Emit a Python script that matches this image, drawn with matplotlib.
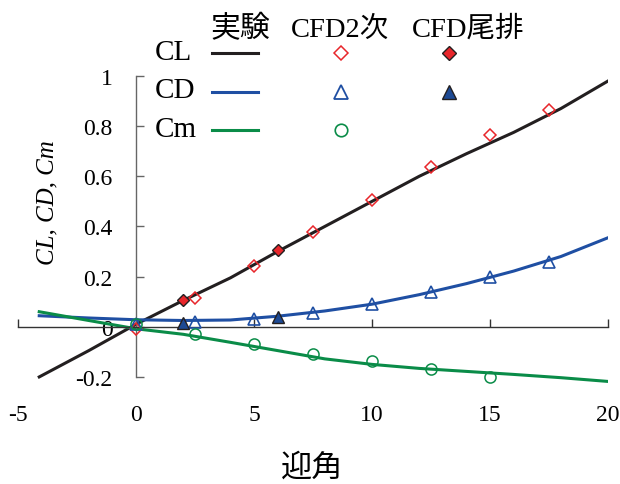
import matplotlib
matplotlib.use("Agg")
import matplotlib.pyplot as plt
from matplotlib.lines import Line2D

plt.rcParams['font.family'] = ['Liberation Serif', 'Noto Sans CJK JP', 'DejaVu Sans']
plt.rcParams['axes.unicode_minus'] = False

# Experimental (lines)
aoa_exp = [-4.1, -2, 0, 2, 4, 6, 8, 10, 12, 14, 16, 18, 20]
CL_exp = [-0.20, -0.095, 0.01, 0.105, 0.195, 0.30, 0.40, 0.50, 0.60, 0.69, 0.775, 0.87, 0.98]
CD_exp = [0.044, 0.035, 0.028, 0.025, 0.027, 0.042, 0.063, 0.09, 0.128, 0.172, 0.222, 0.28, 0.355]
Cm_exp = [0.06, 0.025, -0.008, -0.03, -0.062, -0.095, -0.128, -0.15, -0.166, -0.178, -0.19, -0.203, -0.218]

# CFD 2nd order
aoa_cfd = [0, 2.5, 5, 7.5, 10, 12.5, 15, 17.5]
CL_cfd = [-0.008, 0.113, 0.243, 0.378, 0.506, 0.636, 0.765, 0.865]
CD_cfd = [0.012, 0.02, 0.032, 0.056, 0.092, 0.14, 0.198, 0.26]
aoa_cm_cfd = [0, 2.5, 5, 7.5, 10, 12.5, 15]
Cm_cfd = [0.012, -0.028, -0.068, -0.11, -0.135, -0.167, -0.2]

# CFD tail
aoa_tail = [2, 6]
CL_tail = [0.108, 0.308]
CD_tail = [0.017, 0.04]

x_ticks = [-5, 0, 5, 10, 15, 20]
x_labels = ['-5', '0', '5', '10', '15', '20']
y_ticks = [-0.2, 0, 0.2, 0.4, 0.6, 0.8, 1.0]
y_labels = ['-0.2', '0', '0.2', '0.4', '0.6', '0.8', '1']

c_black = '#231f20'
c_blue = '#1f4fa3'
c_green = '#0a8c48'
c_red = '#e8262b'
c_navy = '#1d4a94'

W, H = 620, 485
fig = plt.figure(figsize=(W / 100, H / 100), dpi=100)
ax = fig.add_axes([18 / W, 1 - 403 / H, 590 / W, 326 / H])
ax.set_xlim(-5, 20)
ax.set_ylim(-0.3, 1.0)

lw = 2.2
ax.plot(aoa_exp, CL_exp, color=c_black, lw=lw, zorder=2)
ax.plot(aoa_exp, CD_exp, color=c_blue, lw=lw, zorder=2)
ax.plot(aoa_exp, Cm_exp, color=c_green, lw=lw, zorder=2)

ax.plot(aoa_cfd, CL_cfd, ls='none', marker='D', ms=5.8, mfc='none', mec=c_red, mew=1.1, zorder=3)
ax.plot(aoa_cfd, CD_cfd, ls='none', marker='^', ms=8.5, mfc='none', mec=c_blue, mew=1.2, zorder=3)
ax.plot(aoa_cm_cfd, Cm_cfd, ls='none', marker='o', ms=8, mfc='none', mec=c_green, mew=1.1, zorder=3)
ax.plot(aoa_tail, CL_tail, ls='none', marker='D', ms=5.8, mfc=c_red, mec=c_black, mew=1.0, zorder=4)
ax.plot(aoa_tail, CD_tail, ls='none', marker='^', ms=8.5, mfc=c_navy, mec=c_black, mew=1.0, zorder=4)

for s in ['top', 'right']:
    ax.spines[s].set_visible(False)
ax.spines['left'].set_position(('data', 0))
ax.spines['left'].set_bounds(-0.2, 1.0)
ax.spines['left'].set_color('#666666')
ax.spines['bottom'].set_position(('data', 0))
ax.spines['bottom'].set_color('#333333')
ax.spines['left'].set_linewidth(1.0)
ax.spines['bottom'].set_linewidth(1.0)

ax.set_yticks(y_ticks)
ax.set_yticklabels(y_labels)
ax.tick_params(axis='y', direction='in', length=6, width=1.0, color='#666666',
               labelsize=17, pad=17)
ax.set_xticks(x_ticks)
ax.tick_params(axis='x', direction='in', length=6, width=1.0, color='#333333',
               labelbottom=False)

sec = ax.secondary_xaxis(0.0)
sec.set_xticks(x_ticks)
sec.set_xticklabels(x_labels)
sec.spines['bottom'].set_visible(False)
sec.tick_params(length=0, labelsize=17, pad=1.5)

fig.text(47 / W, 1 - 203 / H, 'CL, CD, Cm', rotation=90, ha='center', va='center',
         fontsize=18, style='italic')
fig.text(312 / W, 1 - 468 / H, '迎角', ha='center', va='center', fontsize=22.5,
         family=['Noto Sans CJK JP', 'DejaVu Sans'])

# Manual legend
def fx(px):
    return px / W

def fy(py):
    return 1 - py / H

fig.text(fx(240), fy(37), '実験', ha='center', va='baseline', fontsize=21.5)
fig.text(fx(340), fy(37), 'CFD2次', ha='center', va='baseline', fontsize=20.5)
fig.text(fx(468), fy(37), 'CFD尾排', ha='center', va='baseline', fontsize=20.5)

rows = [('CL', 60, 54, c_black), ('CD', 98, 93, c_blue), ('Cm', 137, 131, c_green)]
for name, base, ly, col in rows:
    fig.text(fx(155), fy(base), name, ha='left', va='baseline', fontsize=21)
    fig.add_artist(Line2D([fx(212), fx(258)], [fy(ly), fy(ly)], color=col, lw=lw,
                          transform=fig.transFigure))

fig.add_artist(Line2D([fx(341)], [fy(54)], ls='none', marker='D', ms=6.8, mfc='none',
                      mec=c_red, mew=1.1, transform=fig.transFigure))
fig.add_artist(Line2D([fx(341)], [fy(93)], ls='none', marker='^', ms=10, mfc='none',
                      mec=c_blue, mew=1.3, transform=fig.transFigure))
fig.add_artist(Line2D([fx(341)], [fy(131)], ls='none', marker='o', ms=9, mfc='none',
                      mec=c_green, mew=1.2, transform=fig.transFigure))
fig.add_artist(Line2D([fx(449)], [fy(54)], ls='none', marker='D', ms=6.8, mfc=c_red,
                      mec=c_black, mew=1.0, transform=fig.transFigure))
fig.add_artist(Line2D([fx(449)], [fy(93)], ls='none', marker='^', ms=10, mfc=c_navy,
                      mec=c_black, mew=1.0, transform=fig.transFigure))

fig.savefig('out.png', dpi=100)
